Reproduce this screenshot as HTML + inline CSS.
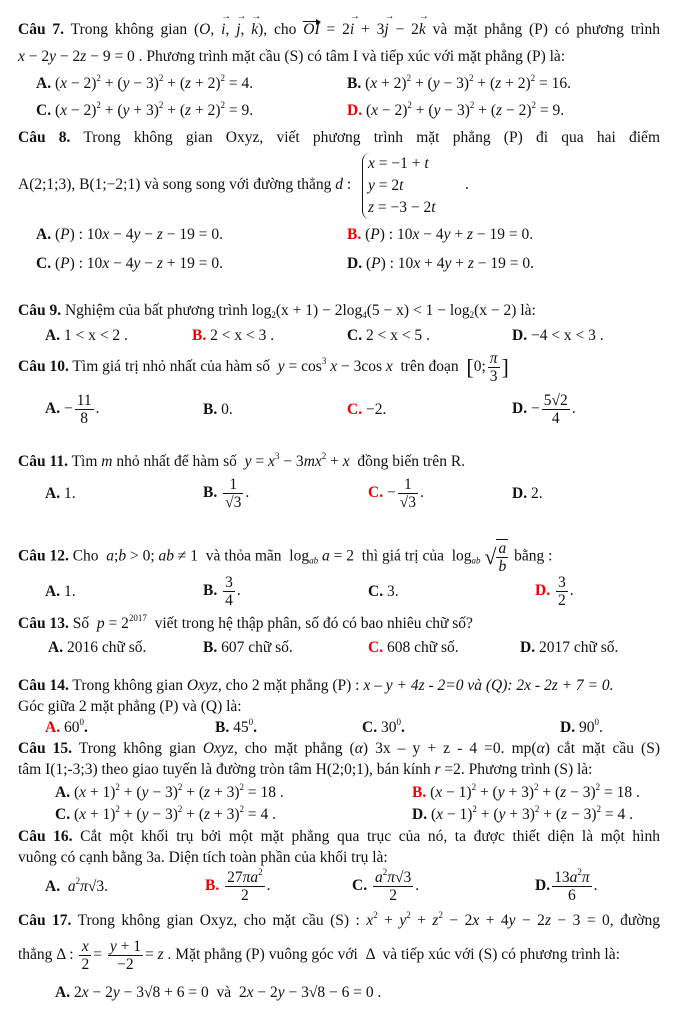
<!DOCTYPE html>
<html><head><meta charset="utf-8"><style>
body{margin:0;background:#fff;}
#p{position:relative;width:700px;height:1023px;overflow:hidden;font-family:"Liberation Serif",serif;font-size:15.5px;color:#111;}
.l{position:absolute;white-space:nowrap;line-height:18px;}
.j{width:642px;text-align:justify;text-align-last:justify;white-space:normal;}
b{font-weight:bold}
.r{color:#e00;font-weight:bold}
i{font-style:italic}
.f{display:inline-block;vertical-align:middle;text-align:center;line-height:17px;margin:0 2px;}
.f span{display:block;padding:0 2px}
.f span+span{border-top:1px solid #111}
sup{font-size:9px;vertical-align:7px;line-height:0}
sub{font-size:9px;vertical-align:-3px;line-height:0}
.sys{display:inline-block;vertical-align:middle;border-left:1.5px solid #111;border-radius:8px 0 0 8px;padding-left:5px;line-height:22px}
.v{position:relative;display:inline-block;font-style:italic}
.v::after{content:"→";position:absolute;left:0;right:0;top:-9px;font-size:10px;line-height:10px;text-align:center;font-style:normal}
.vw{position:relative;display:inline-block;font-style:italic;border-top:1px solid #111;line-height:15px;margin-top:2px}
.vw::after{content:"";position:absolute;right:-1px;top:-3.5px;border-left:5px solid #111;border-top:3px solid transparent;border-bottom:3px solid transparent}
.br{font-size:22px;vertical-align:middle;font-weight:100}
</style></head><body><div id="p">

<div class="l j" style="left:18px;top:19px"><b>Câu 7.</b> Trong không gian (<i>O</i>, <span class="v">i</span>, <span class="v">j</span>, <span class="v">k</span>), cho <span class="vw">OI</span> = 2<span class="v">i</span> + 3<span class="v">j</span> − 2<span class="v">k</span> và mặt phẳng (P) có phương trình</div>
<div class="l" style="left:18px;top:48px"><i>x</i> − 2<i>y</i> − 2<i>z</i> − 9 = 0 . Phương trình mặt cầu (S) có tâm I và tiếp xúc với mặt phẳng (P) là:</div>
<div class="l" style="left:36px;top:75px"><b>A.</b> (<i>x</i> − 2)<sup>2</sup> + (<i>y</i> − 3)<sup>2</sup> + (<i>z</i> + 2)<sup>2</sup> = 4.</div>
<div class="l" style="left:347px;top:75px"><b>B.</b> (<i>x</i> + 2)<sup>2</sup> + (<i>y</i> − 3)<sup>2</sup> + (<i>z</i> + 2)<sup>2</sup> = 16.</div>
<div class="l" style="left:36px;top:102px"><b>C.</b> (<i>x</i> − 2)<sup>2</sup> + (<i>y</i> + 3)<sup>2</sup> + (<i>z</i> + 2)<sup>2</sup> = 9.</div>
<div class="l" style="left:347px;top:102px"><span class="r">D.</span> (<i>x</i> − 2)<sup>2</sup> + (<i>y</i> − 3)<sup>2</sup> + (<i>z</i> − 2)<sup>2</sup> = 9.</div>

<div class="l j" style="left:18px;top:129px"><b>Câu 8.</b> Trong không gian Oxyz, viết phương trình mặt phẳng (P) đi qua hai điểm</div>
<div class="l" style="left:18px;top:176px">A(2;1;3), B(1;−2;1) và song song với đường thẳng <i>d</i> :</div>
<div class="l" style="left:362px;top:153px"><div class="sys"><i>x</i> = −1 + <i>t</i><br><i>y</i> = 2<i>t</i><br><i>z</i> = −3 − 2<i>t</i></div></div>
<div class="l" style="left:465px;top:176px">.</div>
<div class="l" style="left:36px;top:226px"><b>A.</b> (<i>P</i>) : 10<i>x</i> − 4<i>y</i> − <i>z</i> − 19 = 0.</div>
<div class="l" style="left:347px;top:226px"><span class="r">B.</span> (<i>P</i>) : 10<i>x</i> − 4<i>y</i> + <i>z</i> − 19 = 0.</div>
<div class="l" style="left:36px;top:255px"><b>C.</b> (<i>P</i>) : 10<i>x</i> − 4<i>y</i> − <i>z</i> + 19 = 0.</div>
<div class="l" style="left:347px;top:255px"><b>D.</b> (<i>P</i>) : 10<i>x</i> + 4<i>y</i> + <i>z</i> − 19 = 0.</div>

<div class="l" style="left:18px;top:302px"><b>Câu 9.</b> Nghiệm của bất phương trình log<sub>2</sub>(x + 1) − 2log<sub>4</sub>(5 − x) &lt; 1 − log<sub>2</sub>(x − 2) là:</div>
<div class="l" style="left:45px;top:327px"><b>A.</b> 1 &lt; x &lt; 2 .</div>
<div class="l" style="left:192px;top:327px"><span class="r">B.</span> 2 &lt; x &lt; 3 .</div>
<div class="l" style="left:347px;top:327px"><b>C.</b> 2 &lt; x &lt; 5 .</div>
<div class="l" style="left:512px;top:327px"><b>D.</b> −4 &lt; x &lt; 3 .</div>

<div class="l" style="left:18px;top:349px;line-height:36px"><b>Câu 10.</b> Tìm giá trị nhỏ nhất của hàm số &nbsp;<i>y</i> = cos<sup>3</sup> <i>x</i> − 3cos <i>x</i> &nbsp;trên đoạn &nbsp;<span class="br">[</span>0;<span class="f"><span><i>π</i></span><span>3</span></span><span class="br">]</span></div>
<div class="l" style="left:45px;top:392px"><b>A.</b> −<span class="f"><span>11</span><span>8</span></span>.</div>
<div class="l" style="left:203px;top:401px"><b>B.</b> 0.</div>
<div class="l" style="left:347px;top:401px"><span class="r">C.</span> −2.</div>
<div class="l" style="left:512px;top:392px"><b>D.</b> −<span class="f"><span>5√2</span><span>4</span></span>.</div>

<div class="l" style="left:18px;top:453px"><b>Câu 11.</b> Tìm <i>m</i> nhỏ nhất để hàm số &nbsp;<i>y</i> = <i>x</i><sup>3</sup> − 3<i>mx</i><sup>2</sup> + <i>x</i> &nbsp;đồng biến trên R.</div>
<div class="l" style="left:45px;top:485px"><b>A.</b> 1.</div>
<div class="l" style="left:203px;top:476px"><b>B.</b> <span class="f"><span>1</span><span>√3</span></span>.</div>
<div class="l" style="left:368px;top:476px"><span class="r">C.</span> −<span class="f"><span>1</span><span>√3</span></span>.</div>
<div class="l" style="left:512px;top:485px"><b>D.</b> 2.</div>

<div class="l" style="left:18px;top:539px"><b>Câu 12.</b> Cho &nbsp;<i>a</i>;<i>b</i> &gt; 0; <i>ab</i> ≠ 1 &nbsp;và thỏa mãn &nbsp;log<sub><i>ab</i></sub> <i>a</i> = 2 &nbsp;thì giá trị của &nbsp;log<sub><i>ab</i></sub> <span style="font-size:22px;vertical-align:middle">√</span><span class="f" style="margin-left:0;border-top:1px solid #111"><span><i>a</i></span><span><i>b</i></span></span> bằng :</div>
<div class="l" style="left:45px;top:583px"><b>A.</b> 1.</div>
<div class="l" style="left:203px;top:574px"><b>B.</b> <span class="f"><span>3</span><span>4</span></span>.</div>
<div class="l" style="left:368px;top:583px"><b>C.</b> 3.</div>
<div class="l" style="left:535px;top:574px"><span class="r">D.</span> <span class="f"><span>3</span><span>2</span></span>.</div>

<div class="l" style="left:18px;top:615px"><b>Câu 13.</b> Số &nbsp;<i>p</i> = 2<sup>2017</sup> &nbsp;viết trong hệ thập phân, số đó có bao nhiêu chữ số?</div>
<div class="l" style="left:48px;top:639px"><b>A.</b> 2016 chữ số.</div>
<div class="l" style="left:203px;top:639px"><b>B.</b> 607 chữ số.</div>
<div class="l" style="left:368px;top:639px"><span class="r">C.</span> 608 chữ số.</div>
<div class="l" style="left:520px;top:639px"><b>D.</b> 2017 chữ số.</div>

<div class="l" style="left:18px;top:677px"><b>Câu 14.</b> Trong không gian <i>Oxyz</i>, cho 2 mặt phẳng (P) : <i>x – y + 4z - 2=0 và (Q): 2x - 2z + 7 = 0.</i></div>
<div class="l" style="left:18px;top:698px">Góc giữa 2 mặt phẳng (P) và (Q) là:</div>
<div class="l" style="left:45px;top:719px"><span class="r">A.</span> 60<sup>0</sup><b>.</b></div>
<div class="l" style="left:215px;top:719px"><b>B.</b> 45<sup>0</sup><b>.</b></div>
<div class="l" style="left:362px;top:719px"><b>C.</b> 30<sup>0</sup><b>.</b></div>
<div class="l" style="left:560px;top:719px"><b>D.</b> 90<sup>0</sup>.</div>

<div class="l j" style="left:18px;top:740px"><b>Câu 15.</b> Trong không gian <i>Oxyz</i>, cho mặt phẳng (<i>α</i>) 3x – y + z - 4 =0. mp(<i>α</i>) cắt mặt cầu (S)</div>
<div class="l" style="left:18px;top:761px">tâm I(1;-3;3) theo giao tuyến là đường tròn tâm H(2;0;1), bán kính <i>r</i> =2. Phương trình (S) là:</div>
<div class="l" style="left:55px;top:784px"><b>A.</b> (<i>x</i> + 1)<sup>2</sup> + (<i>y</i> − 3)<sup>2</sup> + (<i>z</i> + 3)<sup>2</sup> = 18 .</div>
<div class="l" style="left:412px;top:784px"><span class="r">B.</span> (<i>x</i> − 1)<sup>2</sup> + (<i>y</i> + 3)<sup>2</sup> + (<i>z</i> − 3)<sup>2</sup> = 18 .</div>
<div class="l" style="left:55px;top:806px"><b>C.</b> (<i>x</i> + 1)<sup>2</sup> + (<i>y</i> − 3)<sup>2</sup> + (<i>z</i> + 3)<sup>2</sup> = 4 .</div>
<div class="l" style="left:412px;top:806px"><b>D.</b> (<i>x</i> − 1)<sup>2</sup> + (<i>y</i> + 3)<sup>2</sup> + (<i>z</i> − 3)<sup>2</sup> = 4 .</div>

<div class="l j" style="left:18px;top:828px"><b>Câu 16.</b> Cắt một khối trụ bởi một mặt phẳng qua trục của nó, ta được thiết diện là một hình</div>
<div class="l" style="left:18px;top:849px">vuông có cạnh bằng 3a. Diện tích toàn phần của khối trụ là:</div>
<div class="l" style="left:45px;top:878px"><b>A.</b> &nbsp;<i>a</i><sup>2</sup><i>π</i>√3.</div>
<div class="l" style="left:205px;top:869px"><span class="r">B.</span> <span class="f"><span>27<i>πa</i><sup>2</sup></span><span>2</span></span>.</div>
<div class="l" style="left:352px;top:869px"><b>C.</b> <span class="f"><span><i>a</i><sup>2</sup><i>π</i>√3</span><span>2</span></span>.</div>
<div class="l" style="left:535px;top:869px"><b>D.</b><span class="f"><span>13<i>a</i><sup>2</sup><i>π</i></span><span>6</span></span>.</div>

<div class="l j" style="left:18px;top:912px"><b>Câu 17.</b> Trong không gian Oxyz, cho mặt cầu (S) : <i>x</i><sup>2</sup> + <i>y</i><sup>2</sup> + <i>z</i><sup>2</sup> − 2<i>x</i> + 4<i>y</i> − 2<i>z</i> − 3 = 0, đường</div>
<div class="l" style="left:18px;top:938px">thẳng Δ : <span class="f"><span><i>x</i></span><span>2</span></span>= <span class="f"><span><i>y</i> + 1</span><span>−2</span></span>= <i>z</i> . Mặt phẳng (P) vuông góc với &nbsp;Δ &nbsp;và tiếp xúc với (S) có phương trình là:</div>
<div class="l" style="left:55px;top:984px"><b>A.</b> 2<i>x</i> − 2<i>y</i> − 3√8 + 6 = 0 &nbsp;và &nbsp;2<i>x</i> − 2<i>y</i> − 3√8 − 6 = 0 .</div>

</div></body></html>
